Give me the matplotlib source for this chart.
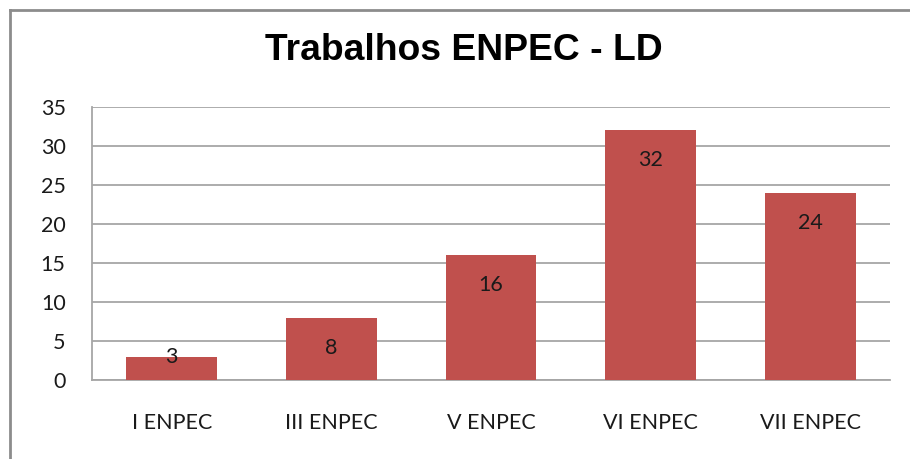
import matplotlib; matplotlib.use("Agg")
import matplotlib.pyplot as plt
from matplotlib.lines import Line2D

categories = ["I ENPEC", "III ENPEC", "V ENPEC", "VI ENPEC", "VII ENPEC"]
values = [3, 8, 16, 32, 24]
yticks = [0, 5, 10, 15, 20, 25, 30, 35]

plt.rcParams["font.family"] = ["Lato", "DejaVu Sans"]

fig = plt.figure(figsize=(9.1, 4.59), dpi=100)
W, H = 910, 459
ax = fig.add_axes([92 / W, 1 - 380 / H, 798 / W, 273 / H])

x = range(len(categories))
bars = ax.bar(x, values, width=0.57, color="#C0504D", zorder=3)
ax.set_xlim(-0.5, len(categories) - 0.5)
ax.set_ylim(0, 35)
ax.set_yticks(yticks)
ax.set_xticks(list(x))
ax.set_xticklabels(categories)
ax.tick_params(axis="both", length=0, labelsize=15.5, colors="#1a1a1a")
ax.tick_params(axis="x", pad=24)
ax.tick_params(axis="y", pad=19)
ax.grid(axis="y", color="#a6a6a6", lw=1.3, zorder=0)
for s in ("top", "right"):
    ax.spines[s].set_visible(False)
for s in ("left", "bottom"):
    ax.spines[s].set_color("#a6a6a6")
    ax.spines[s].set_linewidth(1.3)
for i, v in enumerate(values):
    off = -30 if v >= 5 else 0
    ax.annotate(str(v), (i, v), xytext=(0, off * 0.72), textcoords="offset points",
                ha="center", va="center", fontsize=15.5, color="#1a1a1a", zorder=4)

fig.text(464 / W, 1 - 50 / H, "Trabalhos ENPEC - LD", ha="center", va="center",
         fontsize=26.8, fontweight="bold", family=["Liberation Sans", "DejaVu Sans"])

# chart frame (left and top edges visible)
fig.add_artist(Line2D([10 / W, 10 / W], [0, 1 - 10 / H], color="#8c8c8c", lw=2, transform=fig.transFigure))
fig.add_artist(Line2D([10 / W, 1], [1 - 10 / H, 1 - 10 / H], color="#8c8c8c", lw=2, transform=fig.transFigure))

fig.savefig("out.png", dpi=100)
